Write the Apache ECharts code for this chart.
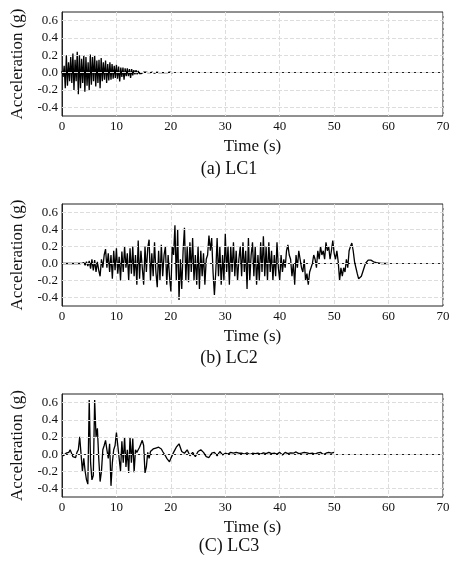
<!DOCTYPE html>
<html><head><meta charset="utf-8">
<script src="https://cdn.jsdelivr.net/npm/echarts@6/dist/echarts.min.js"></script>
<style>html,body{margin:0;padding:0;background:#fff}#c{width:458px;height:573px}</style>
</head><body><div id="c"></div>
<script>
const yTicks = [-0.4, -0.2, 0.0, 0.2, 0.4, 0.6];
const captions = ['(a) LC1', '(b) LC2', '(C) LC3'];
const lc1Dt = 0.2;
const lc1 = [0.02,-0.05,0.08,-0.18,0.2,-0.15,0.12,-0.1,0.18,-0.12,
 0.22,-0.2,0.15,-0.1,0.24,-0.25,0.2,-0.18,0.16,-0.12,
 0.2,-0.22,0.18,-0.15,0.12,-0.2,0.21,-0.14,0.18,-0.1,
 0.2,-0.16,0.14,-0.12,0.15,-0.18,0.17,-0.1,0.12,-0.08,
 0.14,-0.12,0.1,-0.09,0.12,-0.08,0.1,-0.07,0.08,-0.06,
 0.09,-0.07,0.07,-0.1,0.06,-0.05,0.06,-0.08,0.05,-0.04,
 0.05,-0.04,0.04,-0.06,0.04,-0.03,0.03,-0.02,0.03,-0.02,
 0.02,-0.01,0.01,-0.01,0.01,
 0.005,0,0.005,-0.005,0,0.005,0,0,0.005,0,-0.005,0,0.005,0,0,0.005,0,0,0,0.005,0,0,0,0,0.005,0,0,0];
const lc2Dt = 0.25;
const lc2 = [0,0,0,0, 0,0,0,0, 0,0,0,0, 0,0,0,0.01,
 0.01,-0.02,0.02,-0.03, 0.03,-0.06,0.05,-0.08, 0.04,-0.1,0.02,-0.08, -0.15,0.05,-0.05,0.1,
 0.17,-0.05,0.12,-0.1, 0.1,-0.18,0.15,-0.08, 0.18,-0.12,0.08,-0.2, 0.14,-0.1,0.2,-0.05,
 0.12,-0.2,0.18,-0.12, 0.2,-0.15,0.1,-0.25, 0.27,-0.18,0.15,-0.05, -0.25,0.2,-0.1,0.18,
 0.28,-0.2,0.12,-0.15, 0.25,-0.1,-0.28,0.15, -0.2,0.22,-0.15,0.1, 0.2,-0.25,0.1,-0.15,
 -0.33,0.2,0.1,0.45, -0.2,0.4,-0.43,0.05, -0.3,0.15,0.42,-0.2, 0.2,-0.22,0.25,-0.1,
 0.3,-0.2,0.1,-0.25, 0.2,-0.3,0.15,-0.15, 0.12,-0.25,0.05,0.1, 0.33,0.15,0.3,-0.1,
 -0.37,-0.1,0.3,-0.15, 0.2,-0.25,0.1,-0.2, 0.35,-0.1,0.2,-0.25, 0.2,-0.1,0.25,-0.15,
 0.15,-0.2,0.05,0.2, -0.15,0.25,-0.1,0.15, -0.3,0.3,-0.2,0.1, 0.25,-0.15,0.2,-0.25,
 0.1,-0.2,0.25,-0.1, 0.32,-0.15,0.2,-0.2, 0.25,-0.1,0.15,-0.2, 0.1,-0.15,0.25,-0.05,
 -0.2,0.1,-0.1,0.05, -0.05,0.15,0.22,0.1, 0.05,-0.15,0,-0.25, 0.1,-0.05,0.15,0.05,
 -0.05,-0.1,0.05,-0.2, -0.12,-0.25,-0.1,-0.05, 0,0.1,0.05,-0.05, 0.15,0.05,0.2,0.1,
 0.15,0.05,0.25,0.15, 0.2,0.05,0.15,0.27, 0.12,0.05,0.15,0.02, -0.2,-0.05,-0.15,-0.05,
 -0.1,0.05,-0.05,0.15, 0.2,0.24,0.15,0.02, -0.05,-0.12,-0.18,-0.19, -0.15,-0.1,-0.05,0,
 0.02,0.04,0.045,0.04, 0.03,0.02,0.015,0.01, 0.01,0.005,0.005,0, 0,0,0,0, 0];
const lc3FineDt = 0.25;
const lc3Fine = [0.02,-0.02,-0.03,0.01, 0.03,0.02,0.05,0.01, -0.03,-0.05,-0.04,0.02,
 0.05,0.2,0.22,-0.2, -0.05,-0.2,-0.3,-0.35, 0.63,-0.1,-0.3,-0.25, 0.63,0.2,0.3,-0.05,
 -0.32,-0.2,0.05,0.1, 0.16,0.05,-0.05,0.12, -0.37,-0.1,0.05,0.1, 0.25,0.1,-0.05,-0.2,
 0.15,-0.1,0.2,-0.15, 0.05,-0.22,0.2,-0.1, 0.18,-0.21,0.05,0.02, 0.05,0.08,0.12,0.16,
 0.1,-0.22,-0.15,0.02, -0.05,0.03,0.01,0.06, 0.04,0.07,0.05,0.08, 0.09,0.06,0.03,0.01,
 -0.02,-0.05,-0.07,-0.09, -0.05];
const lc3CoarseStart = 20.5, lc3CoarseDt = 0.5;
const lc3Coarse = [0.02,0.08,0.12,0.03,0.01,0.05,-0.02,0.02,-0.03,0.03,0.05,0.02,-0.03,-0.04,0.01,0.02,
 -0.02,0.03,-0.01,0.01,0,0.02,0.01,0.02,
 0.01,0.01,0,0.015,-0.005,0.01,0.005,0.01,0,0.015,0.005,0.02,0.005,0.01,0,0.02,-0.01,0.02,
 0.005,0.015,0.01,0.025,0.005,0.01,0.02,0.015,0.005,0.01,0,0.015,0.02,-0.005,0.01,0.02,0.01,0.02];

const pairs = (arr, dt, t0) => arr.map((v, i) => [+(t0 + i * dt).toFixed(3), v]);
const seriesData = [
  pairs(lc1, lc1Dt, 0),
  pairs(lc2, lc2Dt, 0),
  pairs(lc3Fine, lc3FineDt, 0).concat(pairs(lc3Coarse, lc3CoarseDt, lc3CoarseStart))
];
const F = 'Liberation Serif';
const tops = [12, 204, 394], heights = [104, 102, 103];
const grids = [], xAxes = [], yAxes = [], series = [], graphics = [];
const capY = [160, 349, 537];
for (let k = 0; k < 3; k++) {
  grids.push({left: 62, top: tops[k], width: 381, height: heights[k], show: true, borderColor: '#222', borderWidth: 1});
  xAxes.push({type: 'value', gridIndex: k, min: 0, max: 70, interval: 10,
    name: 'Time (s)', nameLocation: 'middle', nameGap: 22, nameTextStyle: {fontFamily: F, fontSize: 17, color: '#111'},
    axisLine: {lineStyle: {color: '#222'}}, axisTick: {show: false},
    axisLabel: {fontFamily: F, fontSize: 13, color: '#111', margin: 4},
    splitLine: {lineStyle: {type: 'dashed', color: '#ddd'}}});
  yAxes.push({type: 'value', gridIndex: k, min: -0.5, max: 0.7, interval: 0.1,
    name: 'Acceleration (g)', nameLocation: 'middle', nameGap: 34, nameTextStyle: {fontFamily: F, fontSize: 17, color: '#111'},
    axisLine: {lineStyle: {color: '#222'}}, axisTick: {show: false},
    axisLabel: {fontFamily: F, fontSize: 13, color: '#111', margin: 4,
      formatter: v => { const r = Math.round(v * 10); return (r % 2 === 0 && r >= -4 && r <= 6) ? (r / 10).toFixed(1) : ''; }},
    splitLine: {show: false}});
  series.push({type: 'line', xAxisIndex: k, yAxisIndex: k, data: seriesData[k], showSymbol: false,
    lineStyle: {color: '#000', width: 1.3}, animation: false,
    markLine: {silent: true, symbol: 'none', label: {show: false}, animation: false,
      lineStyle: {type: 'dashed', color: '#ddd', width: 1}, data: yTicks.map(v => ({yAxis: v}))}});
  graphics.push({type: 'text', left: 'center', top: capY[k], style: {text: captions[k], font: '18px "Liberation Serif"', fill: '#111'}});
}
const chart = echarts.init(document.getElementById('c'));
chart.setOption({animation: false, grid: grids, xAxis: xAxes, yAxis: yAxes, series: series, graphic: graphics});
</script></body></html>
